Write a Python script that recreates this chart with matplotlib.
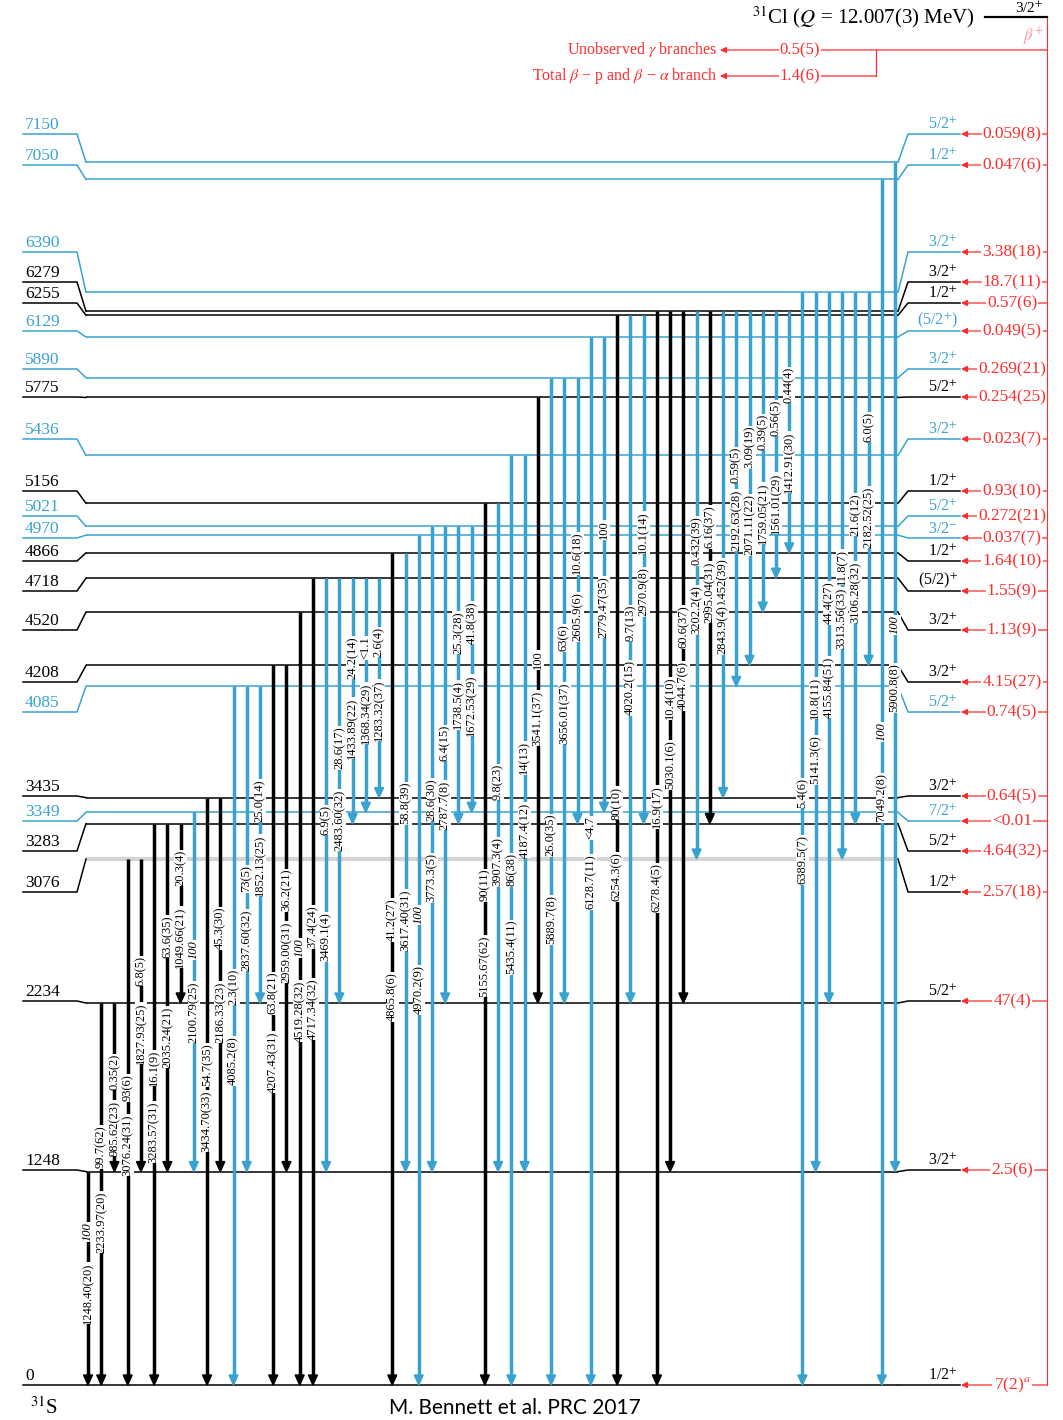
import matplotlib
matplotlib.use("Agg")
import matplotlib.pyplot as plt
from matplotlib.patches import Polygon

plt.rcParams["font.family"] = ["Liberation Serif", "DejaVu Serif"]
plt.rcParams["mathtext.fontset"] = "stix"

BLUE = "#3aa2d0"
RED = "#ff2d2d"
PINK = "#ff9a9a"

# 31S levels (keV) populated in 31Cl beta decay
levels = [0, 1248, 2234, 3076, 3283, 3349, 3435, 4085, 4208, 4520, 4718, 4866,
          4970, 5021, 5156, 5436, 5775, 5890, 6129, 6255, 6279, 6390, 7050, 7150]
spins = ["1/2$^{+}$", "3/2$^{+}$", "5/2$^{+}$", "1/2$^{+}$", "5/2$^{+}$", "7/2$^{+}$",
         "3/2$^{+}$", "5/2$^{+}$", "3/2$^{+}$", "3/2$^{+}$", "(5/2)$^{+}$", "1/2$^{+}$",
         "3/2$^{-}$", "5/2$^{+}$", "1/2$^{+}$", "3/2$^{+}$", "5/2$^{+}$", "3/2$^{+}$",
         "(5/2$^{+}$)", "1/2$^{+}$", "3/2$^{+}$", "3/2$^{+}$", "1/2$^{+}$", "5/2$^{+}$"]
feeding = ["7(2)$^{a}$", "2.5(6)", "47(4)", "2.57(18)", "4.64(32)", "<0.01", "0.64(5)",
           "0.74(5)", "4.15(27)", "1.13(9)", "1.55(9)", "1.64(10)", "0.037(7)",
           "0.272(21)", "0.93(10)", "0.023(7)", "0.254(25)", "0.269(21)", "0.049(5)",
           "0.57(6)", "18.7(11)", "3.38(18)", "0.047(6)", "0.059(8)"]
new_level = [0, 0, 0, 0, 0, 1, 0, 1, 0, 0, 0, 0, 1, 1, 0, 1, 0, 1, 1, 0, 0, 1, 1, 1]

# gamma transitions: initial level, final level, intensity, energy, new (blue)
gamma_from = [1248, 2234, 2234, 3076, 3076, 3283, 3283, 3283, 3349, 3435, 3435,
              4085, 4085, 4085, 4208, 4208, 4520, 4718, 4718, 4718, 4718, 4718,
              4718, 4866, 4866, 4970, 5021, 5021, 5021, 5021, 5156, 5156, 5436,
              5436, 5775, 5890, 5890, 5890, 6129, 6129, 6255, 6255, 6255, 6279,
              6279, 6279, 6279, 6279, 6279, 6279, 6279, 6279, 6279, 6279, 6390,
              6390, 6390, 6390, 6390, 6390, 7050, 7150]
gamma_to = [0, 0, 1248, 0, 1248, 0, 1248, 2234, 1248, 0, 1248,
            0, 1248, 2234, 0, 1248, 0, 0, 1248, 2234, 3283, 3349,
            3435, 0, 1248, 0, 1248, 2234, 3283, 3349, 0, 1248, 0,
            1248, 2234, 0, 2234, 3283, 0, 3349, 0, 2234, 3283, 0,
            1248, 2234, 3076, 3283, 3435, 4085, 4208, 4520, 4718, 4866, 0,
            1248, 2234, 3076, 3283, 4208, 0, 1248]
gamma_int = ["100", "99.7(62)", "0.35(2)", "93(6)", "6.8(5)", "16.1(9)", "63.6(35)",
             "20.3(4)", "100", "54.7(35)", "45.3(30)", "2.3(10)", "73(5)", "25.0(14)",
             "63.8(21)", "36.2(21)", "100", "37.4(24)", "6.9(5)", "28.6(17)",
             "24.2(14)", "<1.1", "2.6(4)", "41.2(27)", "58.8(39)", "100", "28.6(30)",
             "6.4(15)", "25.3(28)", "41.8(38)", "90(11)", "9.8(23)", "86(38)",
             "14(13)", "100", "26.0(35)", "63(6)", "10.6(18)", "<4.7", "100",
             "80(10)", "9.7(13)", "10.1(14)", "16.9(17)", "10.4(10)", "60.6(37)",
             "0.432(39)", "6.16(37)", "0.452(39)", "0.59(5)", "3.09(19)", "0.39(5)",
             "0.56(5)", "0.44(4)", "5.4(6)", "10.8(11)", "44.4(27)", "11.8(7)",
             "21.6(12)", "6.0(5)", "100", "100"]
gamma_energy = ["1248.40(20)", "2233.97(20)", "985.62(23)", "3076.24(31)",
                "1827.93(25)", "3283.57(31)", "2035.24(21)", "1049.66(21)",
                "2100.79(25)", "3434.70(33)", "2186.33(23)", "4085.2(8)",
                "2837.60(32)", "1852.13(25)", "4207.43(31)", "2959.00(31)",
                "4519.28(32)", "4717.34(32)", "3469.1(4)", "2483.60(32)",
                "1433.89(22)", "1368.34(29)", "1283.32(37)", "4865.8(6)",
                "3617.40(31)", "4970.2(9)", "3773.3(5)", "2787.7(8)", "1738.5(4)",
                "1672.53(29)", "5155.67(62)", "3907.3(4)", "5435.4(11)",
                "4187.4(12)", "3541.1(37)", "5889.7(8)", "3656.01(37)", "2605.9(6)",
                "6128.7(11)", "2779.47(35)", "6254.3(6)", "4020.2(15)", "2970.9(8)",
                "6278.4(5)", "5030.1(6)", "4044.7(6)", "3202.2(4)", "2995.04(31)",
                "2843.9(4)", "2192.63(28)", "2071.11(22)", "1759.05(21)",
                "1561.01(29)", "1412.91(30)", "6389.5(7)", "5141.3(6)",
                "4155.84(51)", "3313.56(33)", "3106.28(32)", "2182.52(25)",
                "7049.2(8)", "5900.8(8)"]
gamma_new = [0, 0, 0, 0, 0, 0, 0, 0, 1, 0, 0, 1, 1, 1, 0, 0, 0, 0, 1, 1, 1, 1,
             1, 0, 1, 1, 1, 1, 1, 1, 0, 1, 1, 1, 0, 1, 1, 1, 1, 1, 0, 1, 1, 0,
             0, 0, 1, 0, 1, 1, 1, 1, 1, 1, 1, 1, 1, 1, 1, 1, 1, 1]
italic_int = {0, 8, 16, 25, 60, 61}

# other beta branches
other_labels = ["Unobserved $\\gamma$ branches", "Total $\\beta$ − p and $\\beta$ − $\\alpha$ branch"]
other_values = ["0.5(5)", "1.4(6)"]

# ---- layout (pixel rows of the page, converted to keV on the axis) ----
PX_ZERO = 1385.0
KEV_PER_PX = 1 / 0.171


def row(px):
    return (PX_ZERO - px) * KEV_PER_PX


side_rows = [1385, 1170, 1001, 892, 851, 821, 796, 712, 682, 630, 591, 561,
             538, 516, 491, 439, 397, 369, 331, 303, 282, 252, 165, 134]
int_rows = [1232, 1147, 1072, 1088, 971, 1068, 937, 868, 950, 1065, 928, 987,
            879, 801, 993, 890, 948, 927, 820, 748, 658, 648, 642, 920, 803,
            915, 800, 743, 633, 623, 885, 782, 870, 758, 660, 835, 638, 553,
            828, 530, 803, 623, 533, 807, 698, 627, 541, 527, 583, 465, 447,
            432, 418, 385, 793, 698, 603, 567, 515, 427, 732, 625]
energy_rows = [1293, 1222, 1128, 1145, 1033, 1132, 1037, 937, 1012, 1121, 1012,
               1061, 940, 865, 1062, 952, 1011, 1009, 937, 820, 728, 713, 710,
               997, 920, 990, 878, 805, 705, 705, 966, 862, 947, 830, 718, 920,
               713, 617, 882, 607, 877, 688, 592, 888, 765, 686, 610, 592, 630,
               520, 525, 513, 503, 462, 860, 760, 687, 618, 592, 517, 798, 688]

X_COL0, X_STEP = 88.0, 13.23
LEFT0, LEFT1, MAIN0, MAIN1, RIGHT0, RIGHT1 = 23, 77, 86, 898, 908, 960
RED_X = 1047

fig = plt.figure(figsize=(10.63, 14.2), dpi=100)
ax = fig.add_axes([0, 0, 1, 1])
ax.set_xlim(0, 1063)
ax.set_ylim(row(1420), row(0))
ax.axis("off")

# levels
for E, spin, feed, new, srow in zip(levels, spins, feeding, new_level, side_rows):
    col = BLUE if new else "black"
    ys = row(srow)
    main_col = "#d4d4d4" if E == 3076 else col
    ax.plot([LEFT0, LEFT1, MAIN0], [ys, ys, E], color=col, lw=1.1, zorder=2)
    ax.plot([MAIN0, MAIN1], [E, E], color=main_col,
            lw=3.0 if E == 3076 else 1.1, zorder=1 if E == 3076 else 2,
            solid_capstyle="butt")
    ax.plot([MAIN1, RIGHT0, RIGHT1], [E, ys, ys], color=col, lw=1.1, zorder=2)
    ax.text(LEFT0 + 2, ys + 1.0 * KEV_PER_PX, str(E), color=col, fontsize=12.5,
            ha="left", va="bottom")
    ax.text(RIGHT1 - 2, ys + 1.0 * KEV_PER_PX, spin, color=col, fontsize=11.5,
            ha="right", va="bottom")
    # beta feeding arrow
    ax.annotate("", xy=(RIGHT1 + 1, ys), xytext=(RED_X, ys),
                arrowprops=dict(arrowstyle="-|>", color=RED, lw=0.9,
                                mutation_scale=9, shrinkA=0, shrinkB=0))
    ax.text(1012, ys, feed, color=RED, fontsize=12.5, ha="center", va="center",
            bbox=dict(facecolor="white", edgecolor="none", pad=0.8), zorder=4)

# gamma transitions
head_len = 10 * KEV_PER_PX
head_half = 4.5
for i, (Ei, Ef, inten, eg, new) in enumerate(zip(gamma_from, gamma_to, gamma_int,
                                                    gamma_energy, gamma_new)):
    x = X_COL0 + i * X_STEP
    col = BLUE if new else "black"
    ax.plot([x, x], [Ei, Ef + head_len * 0.8], color=col, lw=2.5, zorder=3,
            solid_capstyle="butt")
    ax.add_patch(Polygon([[x - head_half, Ef + head_len], [x + head_half, Ef + head_len],
                          [x, Ef]], closed=True, color=col, zorder=3))
    ax.text(x, row(int_rows[i]), inten, rotation=90, fontsize=9, ha="center",
            va="center", style="italic" if i in italic_int else "normal",
            bbox=dict(facecolor="white", edgecolor="none", pad=0.2), zorder=5)
    ax.text(x, row(energy_rows[i]), eg, rotation=90, fontsize=9, ha="center",
            va="center", bbox=dict(facecolor="white", edgecolor="none", pad=0.2),
            zorder=5)

# parent state and beta branches
top = row(17)
ax.plot([985, RED_X], [top, top], color="black", lw=1.6)
ax.plot([RED_X, RED_X], [top, 0], color=RED, lw=0.8, zorder=1)
ax.text(1044, top + 1.5 * KEV_PER_PX, "3/2$^{+}$", fontsize=11, ha="right", va="bottom")
ax.text(975, top, "$^{31}$Cl ($Q$ = 12.007(3) MeV)", fontsize=15, ha="right",
        va="center")
ax.text(1043, row(37), "$\\beta^{+}$", color=PINK, fontsize=12, ha="right",
        va="center")

for k, (lab, val, r) in enumerate(zip(other_labels, other_values, [50, 76])):
    y = row(r)
    x_start = RED_X if k == 0 else 876
    ax.annotate("", xy=(720, y), xytext=(x_start, y),
                arrowprops=dict(arrowstyle="-|>", color=RED, lw=0.9,
                                mutation_scale=9, shrinkA=0, shrinkB=0))
    ax.text(800, y, val, color=RED, fontsize=12, ha="center", va="center",
            bbox=dict(facecolor="white", edgecolor="none", pad=0.8), zorder=4)
    ax.text(717, y, lab, color=RED, fontsize=11.5, ha="right", va="center")
ax.plot([876, 876], [row(50), row(76)], color=RED, lw=0.9)

ax.text(30, row(1408), "$^{31}$S", fontsize=15, ha="left", va="center")
ax.text(515, row(1418), "M. Bennett et al. PRC 2017", fontsize=15,
        family=["Lato", "DejaVu Sans"], ha="center", va="bottom")

fig.savefig("out.png", dpi=100)
